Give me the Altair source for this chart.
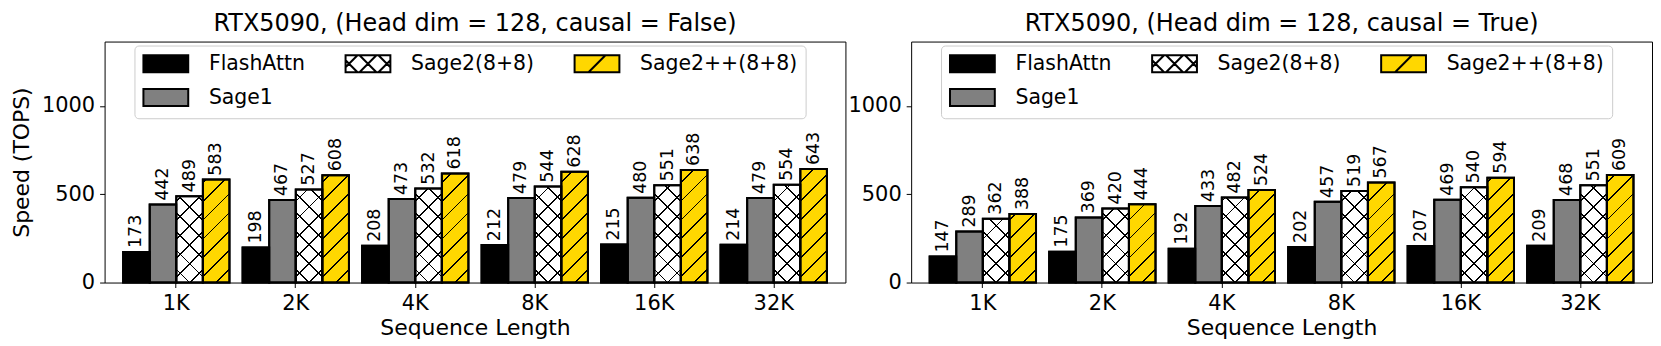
import math
import altair as alt

SEQS = ["1K", "2K", "4K", "8K", "16K", "32K"]
SERIES = ["FlashAttn", "Sage1", "Sage2(8+8)", "Sage2++(8+8)"]
# order fed to the legend (Vega fills multi-column legends column-major)
LEGEND_ORDER = ["FlashAttn", "Sage2++(8+8)", "Sage2(8+8)", "Sage1"]
LEGEND_COLORS = ["#000000", "#ffd700", "#ffffff", "#808080"]

TITLE_NC = "RTX5090, (Head dim = 128, causal = False)"
TITLE_C = "RTX5090, (Head dim = 128, causal = True)"

flash_nc = [173, 198, 208, 212, 215, 214]
sage1_nc = [442, 467, 473, 479, 480, 479]
sage2_nc = [489, 527, 532, 544, 551, 554]
sage2pp_nc = [583, 608, 618, 628, 638, 643]

flash_c = [147, 175, 192, 202, 207, 209]
sage1_c = [289, 369, 433, 457, 469, 468]
sage2_c = [362, 420, 482, 519, 540, 551]
sage2pp_c = [388, 444, 524, 567, 594, 609]

Y_TICKS = [0, 500, 1000]
YMAX = 1365

# layout
PLOT_W = 744
PLOT_H = 242
PAD_IN = 0.11
PAD_OUT = 0.155
STEP = PLOT_W / (len(SEQS) - PAD_IN + 2 * PAD_OUT)
BAR_W = STEP * (1 - PAD_IN) / len(SERIES)

# legend swatch shapes (custom symbol paths, 1 unit = 8.5 px)
RECT = "M-2.647,-1H2.647V1H-2.647Z"
SHAPE_X = (RECT + " M-1,1L1,-1 M-1,-1L1,1"
           " M1.235,1L2.647,-0.412 M-2.647,0.412L-1.235,-1"
           " M1.235,-1L2.647,0.412 M-2.647,-0.412L-1.235,1")
SHAPE_SL = RECT + " M-1,1L1,-1"
LEGEND_SHAPES = [RECT, SHAPE_SL, SHAPE_X, RECT]

HATCH_PERIOD = 19.0
HATCH_K = 1.0
HATCH_LW = 1.3
CLEAR = "rgba(0,0,0,0)"


def hatch(val, direction):
    """Linear-gradient object that paints hatch lines across one bar."""
    h = val / YMAX * PLOT_H
    w = BAR_W
    k = HATCH_K
    span = k * w + h
    r = k * w / h
    dy = (1 + r) / (1 + r * r)
    dx = r * dy
    if direction == "/":
        x1, y1, x2, y2 = 0, 0, dx, dy
    else:
        x1, y1, x2, y2 = 1, 0, 1 - dx, dy
    base = h + k * w / 2
    half = HATCH_LW * math.sqrt(1 + k * k) / 2 / span
    centers = []
    c = base
    while c > -HATCH_PERIOD:
        t = c / span
        if -half < t < 1 + half:
            centers.append(t)
        c -= HATCH_PERIOD
    c = base + HATCH_PERIOD
    while c / span < 1 + half:
        centers.append(c / span)
        c += HATCH_PERIOD
    centers.sort()
    stops = [{"offset": 0, "color": CLEAR}]
    for t in centers:
        a = round(max(0.0, t - half), 5)
        b = round(min(1.0, t + half), 5)
        stops += [{"offset": a, "color": CLEAR}, {"offset": a, "color": "#000000"},
                  {"offset": b, "color": "#000000"}, {"offset": b, "color": CLEAR}]
    stops.append({"offset": 1, "color": CLEAR})
    return {"gradient": "linear", "x1": round(x1, 5), "y1": round(y1, 5),
            "x2": round(x2, 5), "y2": round(y2, 5), "stops": stops}


def rows_for(arrays):
    rows = []
    for i, s in enumerate(SEQS):
        for name, arr in zip(SERIES, arrays):
            v = arr[i]
            g1 = hatch(v, "/") if name in ("Sage2(8+8)", "Sage2++(8+8)") else CLEAR
            g2 = hatch(v, "\\") if name == "Sage2(8+8)" else CLEAR
            rows.append({"seq": s, "series": name, "val": v, "g1": g1, "g2": g2})
    return rows


FONT = "DejaVu Sans"
LEG_FS = 20.5


def legend():
    return alt.Legend(
        title=None, orient="none", legendX=30, legendY=4, columns=3,
        gridAlign="none",
        symbolSize=289, symbolStrokeWidth=2, symbolOffset=13.25,
        symbolOpacity=1, labelFontSize=LEG_FS, labelOffset=33, labelLimit=400,
        columnPadding=36, rowPadding=8, padding=8,
        fillColor="rgba(255,255,255,0.8)", strokeColor="#cccccc",
        cornerRadius=4, labelColor="black", labelFont=FONT, labelBaseline="middle",
    )


def panel(title, arrays, ytitle):
    data = alt.Data(values=rows_for(arrays))
    if ytitle:
        yaxis = alt.Axis(values=Y_TICKS, grid=False, title=ytitle, format="d")
    else:
        yaxis = alt.Axis(values=Y_TICKS, grid=False, title=None, format="d")
    base = alt.Chart(data).encode(
        x=alt.X("seq:N", sort=SEQS,
                scale=alt.Scale(paddingInner=PAD_IN, paddingOuter=PAD_OUT),
                axis=alt.Axis(title="Sequence Length", labelAngle=0)),
        xOffset=alt.XOffset("series:N", scale=alt.Scale(domain=SERIES, paddingInner=0, paddingOuter=0)),
        y=alt.Y("val:Q", scale=alt.Scale(domain=[0, YMAX], nice=False, zero=True), axis=yaxis),
    )
    fill_scale = alt.Scale(domain=LEGEND_ORDER, range=LEGEND_COLORS)
    bars = base.mark_bar(stroke="black", strokeWidth=2).encode(
        fill=alt.Fill("series:N", scale=fill_scale, legend=legend()))
    h1 = base.mark_bar().encode(fill=alt.Fill(field="g1", type="nominal", scale=None, legend=None))
    h2 = base.mark_bar().encode(fill=alt.Fill(field="g2", type="nominal", scale=None, legend=None))
    outline = base.mark_bar(fillOpacity=0, stroke="black", strokeWidth=2)
    labels = base.mark_text(angle=270, align="left", baseline="middle", dx=4,
                            fontSize=17.5, color="black", font=FONT).encode(text="val:Q")
    dummy = base.mark_point(filled=True, clip=True, stroke="black", strokeWidth=2, opacity=1).encode(
        y=alt.datum(-3000),
        fill=alt.Fill("series:N", scale=fill_scale, legend=legend()),
        shape=alt.Shape("series:N", scale=alt.Scale(domain=LEGEND_ORDER, range=LEGEND_SHAPES), legend=legend()),
    )
    return alt.layer(bars, h1, h2, outline, labels, dummy).properties(
        width=PLOT_W, height=PLOT_H,
        title=alt.TitleParams(text=title, fontSize=24, fontWeight="normal", font=FONT,
                              color="black", offset=6),
    )


left = panel(TITLE_NC, [flash_nc, sage1_nc, sage2_nc, sage2pp_nc], "Speed (TOPS)")
right = panel(TITLE_C, [flash_c, sage1_c, sage2_c, sage2pp_c], None)

chart = alt.hconcat(left, right, spacing=1).resolve_scale(
    fill="independent", shape="independent"
).resolve_legend(
    fill="independent", shape="independent"
).properties(
    padding={"left": 2, "top": 2, "right": 0, "bottom": 0}
).configure(font=FONT).configure_view(
    stroke="black", strokeWidth=1
).configure_axis(
    domain=False, grid=False, tickColor="black", tickSize=5, tickWidth=1,
    labelFontSize=21, titleFontSize=22, labelColor="black", titleColor="black",
    titleFontWeight="normal", labelFont=FONT, titleFont=FONT, labelPadding=5,
).configure_axisY(titlePadding=8).configure_axisX(titlePadding=4)

chart.save("out.html", embed_options={"renderer": "svg", "actions": False})
